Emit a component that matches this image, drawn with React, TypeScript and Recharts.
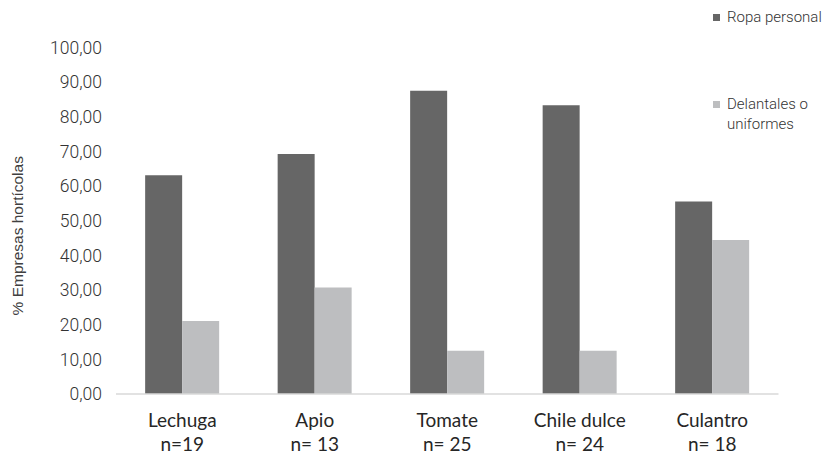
import React from 'react'
import { BarChart, Bar, XAxis, YAxis } from 'recharts'

const categories = ['Lechuga', 'Apio', 'Tomate', 'Chile dulce', 'Culantro']
const sampleSizes = ['n=19', 'n= 13', 'n= 25', 'n= 24', 'n= 18']
const ropaPersonal = [63.16, 69.23, 87.5, 83.33, 55.56]
const delantales = [21.05, 30.77, 12.5, 12.5, 44.44]
const yTicks = [0, 10, 20, 30, 40, 50, 60, 70, 80, 90, 100]

const DARK = '#666666'
const LIGHT = '#bdbec0'

const data = categories.map((name, i) => ({
  name,
  ropa: ropaPersonal[i],
  delantales: delantales[i],
}))

const fmt = (v: number) => v.toFixed(2).replace('.', ',')

// two-line category label: crop name over sample size
const CategoryTick = ({ x, y, payload, index }: any) => (
  <g fontFamily="Lato" fontSize={19} fill="#262626">
    <text x={x} y={y + 25} textAnchor="middle">
      {payload.value}
    </text>
    <text x={x} y={y + 49} textAnchor="middle">
      {sampleSizes[index]}
    </text>
  </g>
)

const YTitle = ({ viewBox }: any) => {
  const cx = viewBox.x + 17
  const cy = viewBox.y + viewBox.height / 2 + 15
  return (
    <text
      x={cx}
      y={cy}
      transform={`rotate(-90, ${cx}, ${cy})`}
      textAnchor="middle"
      dominantBaseline="central"
      fontFamily="Liberation Sans"
      fontSize={15.5}
      fill="#404040"
    >
      % Empresas hortícolas
    </text>
  )
}

// legend sits in the top-right corner, outside the plot
const LegendBox = () => (
  <div style={{ position: 'absolute', left: 713, top: 0, fontFamily: 'Roboto', fontWeight: 300, fontSize: 15, color: '#333', lineHeight: '20px' }}>
    <div style={{ position: 'absolute', left: 0, top: 7, display: 'flex', alignItems: 'center', whiteSpace: 'nowrap' }}>
      <span style={{ width: 7, height: 7, background: DARK, marginRight: 7 }} />
      Ropa personal
    </div>
    <div style={{ position: 'absolute', left: 0, top: 94, display: 'flex', alignItems: 'flex-start', whiteSpace: 'nowrap' }}>
      <span style={{ width: 7, height: 7, background: LIGHT, marginRight: 7, marginTop: 7 }} />
      <span>
        Delantales o
        <br />
        uniformes
      </span>
    </div>
  </div>
)

export default function App() {
  return (
    <div style={{ position: 'absolute', left: 0, top: 0, width: 832, height: 456, background: '#fff' }}>
      <BarChart
        width={832}
        height={456}
        data={data}
        margin={{ top: 47.5, right: 53.5, left: 0, bottom: 0 }}
        barCategoryGap="22%"
        barGap={0}
      >
        <XAxis
          dataKey="name"
          axisLine={{ stroke: '#d9d9d9', strokeWidth: 1.5 }}
          tickLine={false}
          tick={<CategoryTick />}
          interval={0}
          height={62}
        />
        <YAxis
          width={116}
          domain={[0, 100]}
          ticks={yTicks}
          interval={0}
          tickFormatter={fmt}
          axisLine={false}
          tickLine={false}
          tickSize={0}
          tickMargin={14}
          tick={{ fill: '#333', fontSize: 17.5, fontFamily: 'Roboto', fontWeight: 300 }}
          label={<YTitle />}
        />
        <Bar dataKey="ropa" name="Ropa personal" fill={DARK} isAnimationActive={false} />
        <Bar dataKey="delantales" name="Delantales o uniformes" fill={LIGHT} isAnimationActive={false} />
      </BarChart>
      <LegendBox />
    </div>
  )
}
